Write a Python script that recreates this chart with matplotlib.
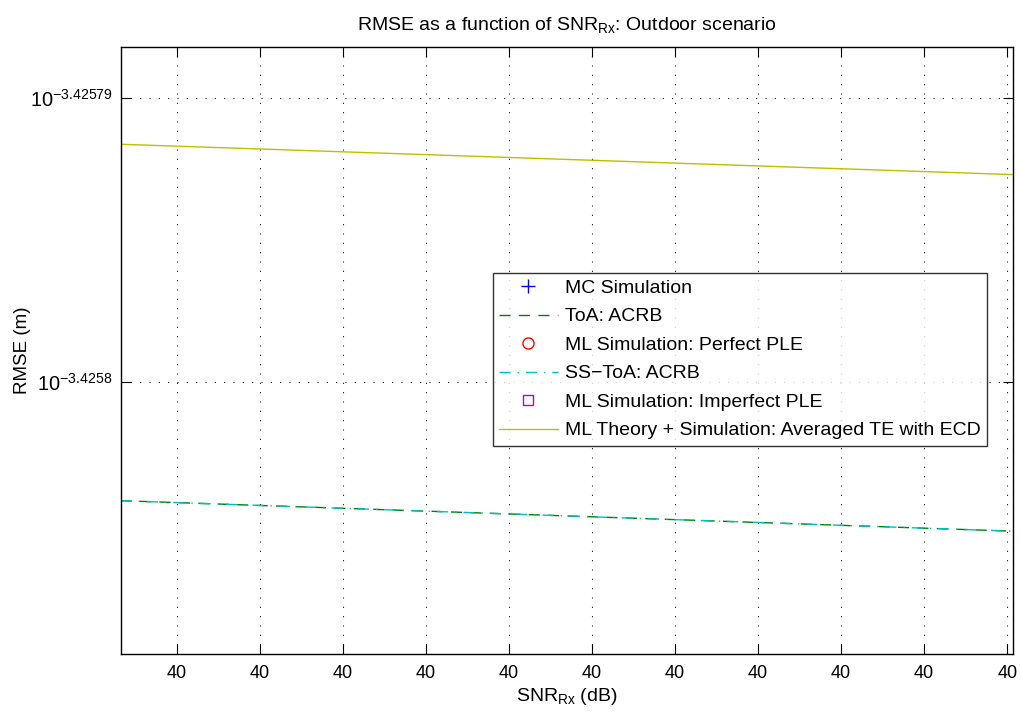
import numpy as np
import matplotlib

matplotlib.use("Agg")
import matplotlib.pyplot as plt

plt.rcParams.update({
    "font.family": ["Liberation Sans", "DejaVu Sans"],
    "font.size": 13,
    "mathtext.fontset": "custom",
    "mathtext.rm": "Liberation Sans",
    "mathtext.it": "Liberation Sans:italic",
    "mathtext.bf": "Liberation Sans:bold",
})

# x positions of the SNR grid (all ticks print as "40" dB)
snr_pos = np.array([-0.68, 10.1])
tick_pos = np.arange(11)
tick_labels = ["40"] * 11

# log10 of RMSE (m) at the two ends of the axis
log_rmse_toa = np.array([-3.42580416, -3.425805235])
log_rmse_sstoa = np.array([-3.42580416, -3.425805235])
log_rmse_ecd = np.array([-3.425791637, -3.425792706])

ytick_exp = [-3.4258, -3.42579]
ytick_labels = [r"$10^{-3.4258}$", r"$10^{-3.42579}$"]

rmse_toa = 10.0 ** log_rmse_toa
rmse_sstoa = 10.0 ** log_rmse_sstoa
rmse_ecd = 10.0 ** log_rmse_ecd

fig = plt.figure(figsize=(10.21, 7.15), dpi=100)
ax = fig.add_axes([121 / 1021, 1 - 654 / 715, (1013 - 121) / 1021, (654 - 47) / 715])

# marker series fall outside the visible window; kept for the legend
ax.plot([], [], "+", color="blue", ms=10, label="MC Simulation")
ax.plot(snr_pos, rmse_toa, "--", color=(0, 0.5, 0), lw=1.0, dashes=(8, 6), label="ToA: ACRB")
ax.plot([], [], "o", color="red", mfc="none", ms=8, label="ML Simulation: Perfect PLE")
ax.plot(snr_pos, rmse_sstoa, "-.", color=(0, 0.75, 0.75), lw=1.0, dashes=(8, 5, 1, 5),
        label="SS\u2212ToA: ACRB")
ax.plot([], [], "s", color="m", mfc="none", ms=7, label="ML Simulation: Imperfect PLE")
ax.plot(snr_pos, rmse_ecd, "-", color=(0.75, 0.75, 0), lw=1.0,
        label="ML Theory + Simulation: Averaged TE with ECD")

ax.set_yscale("log")
ax.set_xlim(-0.675, 10.07)
ax.set_ylim(10.0 ** -3.425809547, 10.0 ** -3.42578822)
ax.set_xticks(tick_pos)
ax.set_xticklabels(tick_labels)
ax.set_yticks([10.0 ** e for e in ytick_exp])
ax.set_yticklabels(ytick_labels, fontsize=14.5)
ax.yaxis.set_minor_locator(matplotlib.ticker.NullLocator())
ax.tick_params(direction="in", length=7, width=0.8, top=True, right=True, labelsize=13, pad=8)
ax.tick_params(axis="y", labelsize=14.5, pad=6)
ax.grid(True, color="black", linestyle=(0, (0.9, 7.5)), lw=0.8)
for sp in ax.spines.values():
    sp.set_linewidth(1.0)

ax.set_title(r"RMSE as a function of SNR$_{\mathrm{Rx}}$: Outdoor scenario", fontsize=14, pad=12)
ax.set_xlabel(r"SNR$_{\mathrm{Rx}}$ (dB)", fontsize=14, labelpad=3)
ax.set_ylabel("RMSE (m)", fontsize=13.5, labelpad=-1)

leg = ax.legend(loc="upper left", bbox_to_anchor=(493 / 1021, 1 - 273 / 715),
                bbox_transform=fig.transFigure, fontsize=14, frameon=True, fancybox=False,
                handlelength=3.0, handletextpad=0.36, labelspacing=0.56, borderpad=0.32,
                borderaxespad=0)
leg.get_frame().set_edgecolor("black")
leg.get_frame().set_linewidth(1.0)

fig.savefig("out.png", dpi=100)
